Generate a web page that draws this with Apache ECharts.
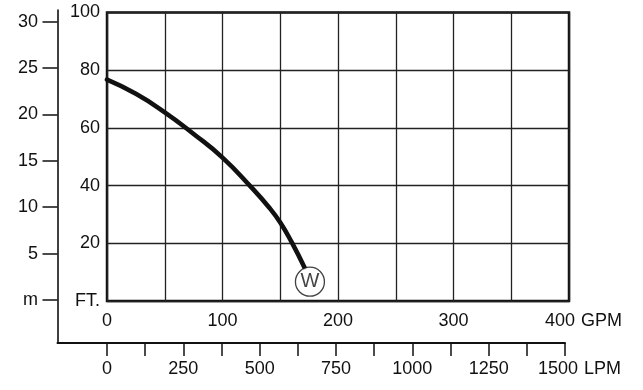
<!DOCTYPE html>
<html>
<head>
<meta charset="utf-8">
<script src="https://cdn.jsdelivr.net/npm/echarts@6/dist/echarts.min.js"></script>
<style>
html,body{margin:0;padding:0;background:#fff;}
#c{width:643px;height:390px;}
</style>
</head>
<body>
<div id="c"></div>
<script>
// Pump curve: flow (GPM) vs head (FT)
const gpm     = [0,    25,   50,   75,   100,  125,  140,  150,  160,  171];
const headFt  = [76.7, 71.8, 65.4, 57.9, 49.7, 39.4, 32.6, 27.2, 20.3, 11.6];
const markerPoint = [175.7, 6.7];
const markerLabel = 'W';

const gpmLabels   = [0, 100, 200, 300, 400];
const ftLabels    = [0, 20, 40, 60, 80, 100];
const meterTicks  = [0, 5, 10, 15, 20, 25, 30];
const lpmTicks    = [0,125,250,375,500,625,750,875,1000,1125,1250,1375,1500];
const lpmLabels   = [0,250,500,750,1000,1250,1500];

const FONT = 'Liberation Sans, Arial, sans-serif';
const TXT = '#111';
const lab = {fontFamily: FONT, fontSize: 18, color: TXT};

const chart = echarts.init(document.getElementById('c'), null, {renderer: 'canvas'});
chart.setOption({
  backgroundColor: '#fff',
  animation: false,
  grid: [
    {left: 107, top: 12.5, width: 462, height: 288.5, show: true,
     borderColor: '#111', borderWidth: 2.5, backgroundColor: 'transparent', containLabel: false},
    {left: 57.5, top: 10, width: 507.5, height: 333, show: false, containLabel: false}
  ],
  xAxis: [
    {type: 'value', gridIndex: 0, min: 0, max: 400, interval: 50,
     name: 'GPM', nameLocation: 'end', nameGap: 7,
     nameTextStyle: Object.assign({}, lab, {align: 'left', verticalAlign: 'top', padding: [11,0,0,0]}),
     axisLine: {show: false}, axisTick: {show: false},
     splitLine: {show: true, lineStyle: {color: '#222', width: 1.3}},
     axisLabel: Object.assign({}, lab, {margin: 11,
       rich: {e: Object.assign({}, lab, {padding: [0, 18, 0, 0]})},
       formatter: v => v === 400 ? '{e|400}' : (gpmLabels.indexOf(v) >= 0 ? String(v) : '')})},
    {type: 'value', gridIndex: 1, min: -162, max: 1500,
     name: 'LPM', nameLocation: 'end', nameGap: 10,
     nameTextStyle: Object.assign({}, lab, {align: 'left', verticalAlign: 'top', padding: [17,0,0,0]}),
     axisLine: {show: true, onZero: false, lineStyle: {color: '#111', width: 2}},
     axisTick: {show: true, customValues: lpmTicks, length: 13, lineStyle: {color: '#111', width: 1.5}},
     splitLine: {show: false},
     axisLabel: Object.assign({}, lab, {margin: 17, customValues: lpmLabels,
       rich: {e: Object.assign({}, lab, {padding: [0, 14, 0, 0]})},
       formatter: v => v === 1500 ? '{e|1500}' : String(v)})}
  ],
  yAxis: [
    {type: 'value', gridIndex: 0, min: 0, max: 100, interval: 20,
     axisLine: {show: false}, axisTick: {show: false},
     splitLine: {show: true, lineStyle: {color: '#222', width: 1.3}},
     axisLabel: Object.assign({}, lab, {margin: 7,
       formatter: v => v === 0 ? 'FT.' : (ftLabels.indexOf(v) >= 0 ? String(v) : '')})},
    {type: 'value', gridIndex: 1, min: -4.635, max: 31.26,
     axisLine: {show: true, onZero: false, lineStyle: {color: '#111', width: 1.6}},
     axisTick: {show: true, customValues: meterTicks, length: 15, lineStyle: {color: '#111', width: 1.5}},
     splitLine: {show: false},
     axisLabel: Object.assign({}, lab, {margin: 19.5, customValues: meterTicks,
       formatter: v => v === 0 ? 'm' : String(v)})}
  ],
  series: [
    {type: 'line', xAxisIndex: 0, yAxisIndex: 0,
     data: gpm.map((g, i) => [g, headFt[i]]),
     smooth: 0.5, showSymbol: false, clip: false,
     lineStyle: {color: '#111', width: 4.6, cap: 'round'}, z: 3},
    {type: 'scatter', xAxisIndex: 0, yAxisIndex: 0,
     data: [markerPoint], symbol: 'circle', symbolSize: 29,
     itemStyle: {color: '#fff', borderColor: '#111', borderWidth: 1.3}, z: 5,
     label: {show: true, position: 'inside', formatter: markerLabel,
       fontFamily: FONT, fontSize: 20, color: TXT}}
  ]
});
</script>
</body>
</html>
